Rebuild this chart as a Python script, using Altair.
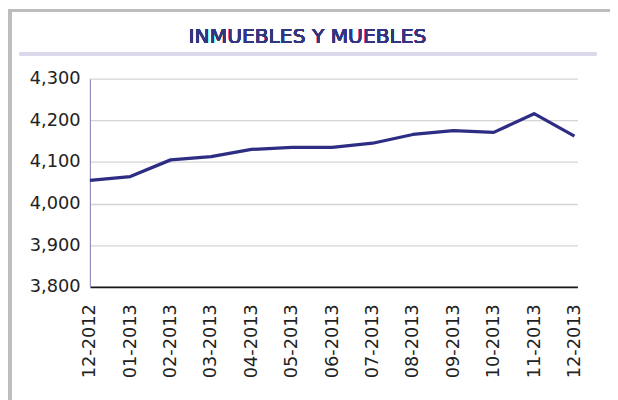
import altair as alt
import pandas as pd

months = ["12-2012", "01-2013", "02-2013", "03-2013", "04-2013", "05-2013", "06-2013",
          "07-2013", "08-2013", "09-2013", "10-2013", "11-2013", "12-2013"]
values = [4056, 4065, 4105, 4113, 4130, 4135, 4135, 4145, 4166, 4175, 4171, 4216, 4162]
y_ticks = [3800, 3900, 4000, 4100, 4200, 4300]
title_text = "INMUEBLES Y MUEBLES"

df = pd.DataFrame({"i": list(range(len(months))), "month": months, "value": values})

label_expr = "[" + ",".join("'%s'" % m for m in months) + "][datum.value]"

W, H = 494, 211

x_enc = alt.X("i:Q",
              scale=alt.Scale(domain=[0, 12 * W / 491], nice=False, zero=False),
              axis=alt.Axis(values=list(range(len(months))), labelExpr=label_expr,
                            labelAngle=270, labelAlign="right", labelBaseline="middle",
                            labelPadding=17, ticks=False, tickSize=0, grid=False,
                            domainColor="#1a1a1a", domainWidth=1.6,
                            labelFont="DejaVu Sans", labelFontSize=18, labelColor="#222222",
                            labelOverlap=False, labelBound=False, labelFlush=False,
                            title=None))
y_enc = alt.Y("value:Q",
              scale=alt.Scale(domain=[3800, 4300], nice=False, zero=False),
              axis=alt.Axis(values=y_ticks, format=",d", ticks=False, tickSize=0,
                            labelPadding=10, grid=True, gridColor="#d4d4d4", gridWidth=1.3,
                            domainColor="#9191c4", domainWidth=1.2,
                            labelFont="DejaVu Sans", labelFontSize=18, labelColor="#222222",
                            labelFlush=False, labelBound=False,
                            title=None))

line = alt.Chart(df).mark_line(color="#2d2e83", strokeWidth=3.3, strokeJoin="round").encode(
    x=x_enc, y=y_enc)

# decorative frame and title underline
frame_left = alt.Chart(df).mark_rule(color="#bdbdbd", strokeWidth=4).encode(
    x=alt.value(-81.5), y=alt.value(-69), y2=alt.value(330))
frame_top = alt.Chart(df).mark_rule(color="#bdbdbd", strokeWidth=3).encode(
    x=alt.value(-83), x2=alt.value(527), y=alt.value(-69))
underline = alt.Chart(df).mark_rule(color="#d9d9eb", strokeWidth=3).encode(
    x=alt.value(-71), x2=alt.value(513), y=alt.value(-25))
title = alt.Chart(df).mark_text(text=title_text, font="DejaVu Sans", fontSize=20.5,
                                color="#34357f", align="center", baseline="alphabetic").encode(
    x=alt.value(220.5), y=alt.value(-36))

chart = alt.layer(frame_left, frame_top, underline, title, line).properties(
    width=W, height=H,
    autosize=alt.AutoSizeParams(type="none"),
    padding={"left": 83, "top": 69, "right": 33, "bottom": 112},
    background="white",
).configure_view(stroke=None)

chart.save("out.html", embed_options={"renderer": "svg", "actions": False})
